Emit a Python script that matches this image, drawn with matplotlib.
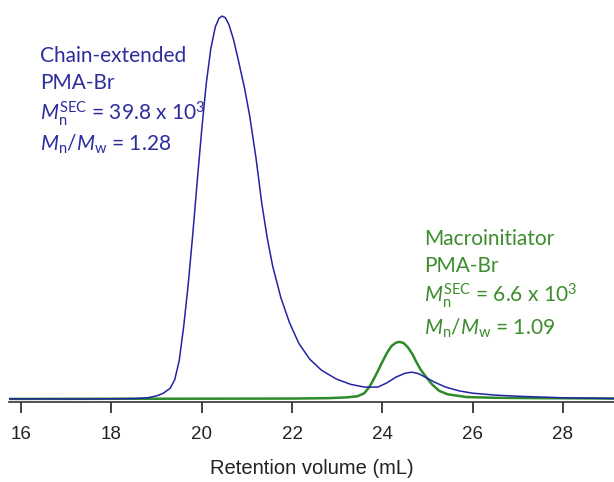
import matplotlib
matplotlib.use("Agg")
import matplotlib.pyplot as plt

# Chain-extended PMA-Br (blue) trace, normalised detector response
blue_x = [15.7, 16.5, 17.5, 18.5, 18.8, 19.0, 19.15, 19.3, 19.4, 19.5, 19.6, 19.7, 19.8,
          19.9, 20.0, 20.1, 20.2, 20.3, 20.38, 20.45, 20.52, 20.6, 20.7, 20.80, 20.95,
          21.06, 21.2, 21.33, 21.45, 21.57, 21.75, 21.94, 22.15, 22.39, 22.65, 22.98,
          23.3, 23.6, 23.9, 24.1, 24.3, 24.5, 24.65, 24.8, 24.95, 25.15, 25.4, 25.7,
          26.0, 26.5, 27.0, 27.5, 28.0, 28.5, 29.2]
blue_y = [0.000, 0.000, 0.000, 0.001, 0.003, 0.008, 0.015, 0.028, 0.050, 0.100, 0.190, 0.300,
          0.430, 0.570, 0.705, 0.825, 0.915, 0.972, 0.994, 1.000, 0.996, 0.978, 0.940, 0.890, 0.810,
          0.740, 0.630, 0.510, 0.420, 0.347, 0.265, 0.200, 0.145, 0.104, 0.075, 0.052,
          0.038, 0.031, 0.031, 0.042, 0.057, 0.067, 0.070, 0.066, 0.057, 0.044, 0.031, 0.021,
          0.015, 0.010, 0.007, 0.005, 0.003, 0.002, 0.001]

# Macroinitiator PMA-Br (green) trace
green_x = [15.7, 22.0, 22.8, 23.2, 23.45, 23.6, 23.71, 23.8, 23.9, 24.0, 24.1, 24.2, 24.3,
           24.38, 24.47, 24.57, 24.67, 24.75, 24.85, 24.97, 25.1, 25.26, 25.45, 25.86,
           26.5, 27.5, 29.2]
green_y = [0.000, 0.001, 0.002, 0.004, 0.007, 0.015, 0.031, 0.050, 0.073, 0.097, 0.120, 0.138, 0.147,
           0.149, 0.146, 0.134, 0.116, 0.097, 0.076, 0.057, 0.038, 0.021, 0.012, 0.005,
           0.003, 0.002, 0.001]

x_ticks = [16, 18, 20, 22, 24, 26, 28]
x_label = "Retention volume (mL)"

blue_lines = ["Chain-extended", "PMA-Br",
              r"$M_{\rm n}^{\rm SEC}$ = 39.8 x 10$^{3}$",
              r"$M_{\rm n}$/$M_{\rm w}$ = 1.28"]
green_lines = ["Macroinitiator", "PMA-Br",
               r"$M_{\rm n}^{\rm SEC}$ = 6.6 x 10$^{3}$",
               r"$M_{\rm n}$/$M_{\rm w}$ = 1.09"]

plt.rcParams["font.family"] = ["Liberation Sans", "DejaVu Sans"]
plt.rcParams["mathtext.fontset"] = "custom"
plt.rcParams["mathtext.rm"] = "Lato"
plt.rcParams["mathtext.it"] = "Lato:italic"
plt.rcParams["mathtext.bf"] = "Lato:bold"

W, H = 614, 482
fig = plt.figure(figsize=(W / 100, H / 100), dpi=100)
ax = fig.add_axes([9 / W, (H - 402) / H, (W - 9) / W, 402 / H])

BLUE = "#2323a3"
GREEN = "#2e8a2a"
BLUE_T = "#2d2d9c"
GREEN_T = "#3d8c2d"

ax.plot(green_x, green_y, color=GREEN, lw=1.8, solid_joinstyle="round")
ax.plot(blue_x, blue_y, color=BLUE, lw=1.1, solid_joinstyle="round")

ax.set_xlim(15.73, 29.13)
ax.set_ylim(-0.008, 1.042)
ax.set_xticks(x_ticks)
ax.set_xticklabels([str(t) for t in x_ticks], fontsize=13.5)
ax.tick_params(axis="x", direction="out", length=8, width=1.2, pad=9, colors="#222222")
ax.set_yticks([])
for s in ["left", "right", "top"]:
    ax.spines[s].set_visible(False)
ax.spines["bottom"].set_linewidth(1.2)
ax.spines["bottom"].set_color("#333333")
ax.set_xlabel(x_label, fontsize=14.5, labelpad=12, color="#222222")

def px(x, y):
    return x / W, 1 - y / H

for txt, yb in zip(blue_lines, [62, 89, 120, 151]):
    fig.text(*px(40, yb), txt, color=BLUE_T, fontsize=15, family="Lato", va="baseline")
for txt, yb in zip(green_lines, [245, 272, 302, 335]):
    fig.text(*px(424, yb), txt, color=GREEN_T, fontsize=15, family="Lato", va="baseline")

fig.savefig("out.png", dpi=100)
